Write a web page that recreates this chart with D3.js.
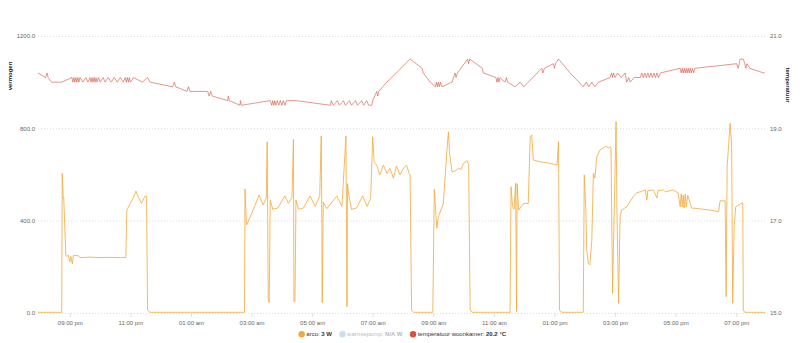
<!DOCTYPE html>
<html>
<head>
<meta charset="utf-8">
<script src="https://cdn.jsdelivr.net/npm/d3@7"></script>
<style>
  html, body { margin: 0; padding: 0; background: #fff; }
  svg { display: block; font-family: "Liberation Sans", Arial, sans-serif; }
</style>
</head>
<body>
<svg id="chart" width="800" height="343"></svg>
<script>
// 24-hour window, clock times (a new day starts when the clock wraps)
const windowStart = "19:57";
const windowEnd = "19:57";

// arco power draw (W)
const powerTimes = [
  "19:57","20:44","20:45","20:47","20:48","20:52","20:54","20:57","21:00","21:02","21:05","21:07","21:17","21:20","21:40","22:00","22:20","22:40","22:51",
  "22:53","23:00","23:06","23:11","23:15","23:22","23:29","23:32","23:34","23:39",
  "02:46","02:47","02:50","02:52","03:03","03:15","03:23","03:29","03:31","03:33","03:35","03:37","03:42","03:52","04:06","04:13","04:20","04:23","04:24","04:26","04:28","04:33","04:43","04:56","05:06","05:15","05:18","05:19","05:20","05:22","05:29","05:49","05:59","06:07","06:09","06:10","06:13","06:18","06:28","06:40","06:49","06:56",
  "07:00","07:03","07:08","07:14","07:21","07:28","07:34","07:41","07:47","07:54","08:01","08:07","08:12","08:14","08:17","08:21",
  "08:59","09:02","09:07","09:10","09:20","09:27","09:30","09:32","09:37","09:43","09:50","09:55","10:00","10:07","10:10","10:13","10:17",
  "11:32","11:34","11:37","11:40","11:43","11:45","11:46","11:49","11:59","12:08","12:12","12:15","12:18","12:31","12:45","12:58","13:05","13:08","13:10","13:14",
  "13:57","13:59","14:02","14:04","14:07","14:10","14:14","14:17","14:20","14:24","14:30","14:43","14:47","14:50","14:52","14:55","15:02","15:04","15:07","15:10","15:13","15:23","15:36","15:43","15:50",
  "16:00","16:03","16:05","16:16","16:23","16:25","16:36","16:40","16:55","17:05","17:09","17:11","17:13","17:15","17:17","17:19","17:21","17:24","17:32","17:38","17:52","18:08","18:25","18:28","18:38",
  "18:40","18:42","18:48","18:51","18:53","18:56","18:59","19:13","19:14","19:17","19:57"
];
const powerValues = [
  3,3,605,497,500,251,245,250,222,245,212,250,248,240,242,240,241,240,240,
  446,475,500,528,505,475,507,505,13,3,
  3,537,381,390,446,511,468,497,742,56,45,490,449,455,507,475,500,752,49,50,490,449,455,507,462,505,767,490,45,480,452,507,462,767,27,560,505,449,455,507,462,497,
  764,651,641,598,641,605,627,584,637,598,627,641,605,598,13,3,
  3,536,367,417,475,706,785,699,612,615,627,622,648,660,641,13,3,
  3,547,460,450,562,6,560,446,475,475,764,771,663,655,651,645,641,742,13,3,
  3,598,454,273,215,208,316,605,584,677,706,723,713,720,713,85,829,400,42,417,446,460,504,521,525,
  533,490,530,533,498,530,533,525,533,520,460,515,460,510,455,515,460,510,454,454,450,446,439,486,486,
  71,634,822,720,42,374,460,478,13,3,3
];

// living-room temperature (°C)
const tempTimes = [
  "19:57","20:12","20:15","20:17","20:24","20:44","21:04","21:06","21:08","21:10","21:12","21:14","21:16","21:18","21:20","21:26","21:32","21:36",
  "21:40","21:42","21:44","21:46","21:48","21:50","21:52","21:54","21:57","22:00","22:06","22:10","22:16","22:22","22:28","22:34","22:40","22:46",
  "22:50","22:52","22:54","22:56","22:58","23:00","23:06","23:24","23:34","23:39",
  "00:24","00:27","00:30","00:52","00:55","00:58","01:33","01:36","01:39","01:42","02:13","02:14","02:16","02:37","02:38","02:40",
  "03:37","03:40","03:42","03:44","03:46","03:48","03:51","03:54","03:57","04:00","04:03","04:06","04:09","04:28",
  "05:36","05:38","05:42","05:50","05:54","06:02","06:06","06:14","06:18","06:26","06:30","06:38","06:42","06:48","06:52","06:58",
  "07:00","07:08","07:10","07:12","07:28","07:47","08:14","08:38","08:40","08:54","09:04","09:06","09:08","09:10","09:12","09:14","09:17",
  "09:37","09:43","09:45","09:48","10:08","10:10","10:12","10:37","10:39","11:04","11:06","11:08","11:10","11:12","11:22","11:25","11:27",
  "11:42","11:52","11:59","12:08","12:35","12:37","12:40","12:58","13:00","13:02","13:08","13:31",
  "13:57","14:03","14:08","14:14","14:20","14:27","14:50","14:53","14:55","14:57","15:00","15:05","15:12","15:20","15:23","15:27","15:30","15:38",
  "15:50","15:53","15:56","15:59","16:02","16:05","16:08","16:11","16:14","16:17","16:20","16:23","16:26","16:30",
  "17:09","17:11","17:13","17:15","17:17","17:19","17:21","17:23","17:25","17:27","17:29","17:31","17:33","17:36","17:38",
  "19:01","19:04","19:08","19:14","19:17","19:19","19:21","19:27","19:54","19:57"
];
const tempValues = [
  20.2,20.1,20.2,20.1,20.0,20.0,20.1,20.0,20.1,20.0,20.1,20.0,20.1,20.0,20.1,20.0,20.1,20.0,
  20.1,20.0,20.1,20.0,20.1,20.0,20.1,20.0,20.1,20.0,20.1,20.0,20.1,20.0,20.1,20.0,20.1,20.0,
  20.1,20.0,20.1,20.0,20.1,20.0,20.1,20.0,20.1,20.0,
  19.9,20.0,19.9,19.8,19.9,19.8,19.8,19.7,19.8,19.7,19.6,19.7,19.6,19.5,19.6,19.5,
  19.6,19.5,19.6,19.5,19.6,19.5,19.6,19.5,19.6,19.5,19.6,19.5,19.6,19.6,
  19.5,19.6,19.5,19.6,19.5,19.6,19.5,19.6,19.5,19.6,19.5,19.6,19.5,19.6,19.5,19.5,
  19.6,19.8,19.7,19.8,20.0,20.2,20.5,20.3,20.2,20.0,19.9,20.0,19.9,20.0,19.9,20.0,19.9,
  20.0,20.2,20.1,20.2,20.5,20.4,20.5,20.3,20.2,20.1,20.0,20.1,20.0,20.1,20.0,20.1,20.0,
  19.9,20.0,19.9,20.0,20.3,20.2,20.3,20.4,20.3,20.4,20.5,20.2,
  19.9,20.0,19.9,20.0,19.9,20.0,20.1,20.2,20.1,20.2,20.1,20.2,20.1,20.2,20.0,20.1,20.0,20.1,
  20.1,20.2,20.1,20.2,20.1,20.2,20.1,20.2,20.1,20.2,20.1,20.2,20.1,20.2,
  20.3,20.2,20.3,20.2,20.3,20.2,20.3,20.2,20.3,20.2,20.3,20.2,20.3,20.2,20.3,
  20.4,20.3,20.5,20.5,20.4,20.3,20.4,20.3,20.2,20.2
];

const powerTicks = [0, 400, 800, 1200];
const tempTicks = [15, 17, 19, 21];
const leftTitle = "vermogen";
const rightTitle = "temperatuur";
const legendLabels = ["arco: ", "warmtepomp: ", "temperatuur woonkamer: "];
const legendUnits = ["W", "W", "°C"];
const colors = { arco: "#f2a93b", warmtepomp: "#c9def0", temp: "#d9503f" };

// ---- helpers ----
const baseDay = new Date(2024, 0, 15);
function clockToDate(t, day) {
  const [h, m] = t.split(":").map(Number);
  return new Date(baseDay.getFullYear(), baseDay.getMonth(), baseDay.getDate() + day, h, m);
}
function toDates(times) {
  let day = 0, prev = -1;
  return times.map(t => {
    const [h, m] = t.split(":").map(Number);
    const mins = h * 60 + m;
    if (mins < prev) day++;
    prev = mins;
    return clockToDate(t, day);
  });
}

const powerData = toDates(powerTimes).map((d, i) => ({ t: d, v: powerValues[i] }));
const tempData = toDates(tempTimes).map((d, i) => ({ t: d, v: tempValues[i] }));

const plot = { left: 38, right: 765, top: 36, bottom: 313 };
const svg = d3.select("#chart");

const x = d3.scaleTime()
  .domain([clockToDate(windowStart, 0), clockToDate(windowEnd, 1)])
  .range([plot.left, plot.right]);
const yPower = d3.scaleLinear().domain([0, 1200]).range([plot.bottom, plot.top]);
const yTemp = d3.scaleLinear().domain([15, 21]).range([plot.bottom, plot.top]);

// dotted horizontal grid
svg.append("g").selectAll("line").data(powerTicks).join("line")
  .attr("x1", plot.left).attr("x2", plot.right)
  .attr("y1", d => yPower(d) + 0.5).attr("y2", d => yPower(d) + 0.5)
  .attr("stroke", "#dcdcdc").attr("stroke-width", 1).attr("stroke-dasharray", "1,2");

// x axis: every other hour on odd hours
const hourTicks = d3.timeHour.range(x.domain()[0], x.domain()[1]).filter(d => d.getHours() % 2 === 1);
const fmt = d => d3.timeFormat("%I:%M")(d) + " " + (d.getHours() < 12 ? "am" : "pm");
const xAxis = svg.append("g")
  .attr("transform", `translate(0,${plot.bottom})`)
  .call(d3.axisBottom(x).tickValues(hourTicks).tickFormat(fmt).tickSize(4).tickPadding(4));
xAxis.select(".domain").remove();
xAxis.selectAll(".tick line").attr("stroke", "#e0e0e0");
xAxis.selectAll(".tick text").attr("fill", "#666").style("font-size", "6px");

// left axis
const yl = svg.append("g").attr("transform", `translate(${plot.left},0)`)
  .call(d3.axisLeft(yPower).tickValues(powerTicks).tickFormat(d3.format(".1f")).tickSize(0).tickPadding(3));
yl.select(".domain").remove();
yl.selectAll(".tick text").attr("fill", "#666").style("font-size", "6px");

// right axis
const yr = svg.append("g").attr("transform", `translate(${plot.right},0)`)
  .call(d3.axisRight(yTemp).tickValues(tempTicks).tickFormat(d3.format(".1f")).tickSize(0).tickPadding(5));
yr.select(".domain").remove();
yr.selectAll(".tick text").attr("fill", "#666").style("font-size", "6px");

// axis titles
svg.append("text").text(leftTitle)
  .attr("transform", "translate(10,76) rotate(-90)")
  .attr("text-anchor", "middle").attr("dominant-baseline", "middle")
  .style("font-size", "6px").style("font-weight", "bold").attr("fill", "#222");
svg.append("text").text(rightTitle)
  .attr("transform", "translate(788,85) rotate(90)")
  .attr("text-anchor", "middle").attr("dominant-baseline", "middle")
  .style("font-size", "6px").style("font-weight", "bold").attr("fill", "#222");

// series lines
const powerLine = d3.line().x(d => x(d.t)).y(d => yPower(d.v));
const tempLine = d3.line().x(d => x(d.t)).y(d => yTemp(d.v));

svg.append("path").datum(powerData)
  .attr("d", powerLine).attr("fill", "none")
  .attr("stroke", colors.arco).attr("stroke-width", 1).attr("stroke-linejoin", "round").attr("opacity", 0.8);
svg.append("path").datum(tempData)
  .attr("d", tempLine).attr("fill", "none")
  .attr("stroke", colors.temp).attr("stroke-width", 0.85).attr("stroke-linejoin", "round").attr("opacity", 0.72);

// legend with latest values
const lastPower = powerValues[powerValues.length - 1];
const lastTemp = tempValues[tempValues.length - 1];
const legendItems = [
  { label: legendLabels[0], value: `${lastPower} ${legendUnits[0]}`, color: colors.arco, text: "#333" },
  { label: legendLabels[1], value: `N/A ${legendUnits[1]}`, color: colors.warmtepomp, text: "#bbb" },
  { label: legendLabels[2], value: `${lastTemp.toFixed(1)} ${legendUnits[2]}`, color: colors.temp, text: "#333" }
];
const legend = svg.append("g");
let lx = 301.7;
const ly = 334.3;
legendItems.forEach(item => {
  legend.append("circle").attr("cx", lx).attr("cy", ly).attr("r", 3.2).attr("fill", item.color);
  const t = legend.append("text").attr("x", lx + 4.6).attr("y", ly + 2.1)
    .style("font-size", "6px").attr("fill", item.text);
  t.append("tspan").text(item.label);
  t.append("tspan").text(item.value).style("font-weight", "bold");
  const w = t.node().getComputedTextLength();
  lx = lx + 4.6 + w + 10.5;
});
</script>
</body>
</html>
